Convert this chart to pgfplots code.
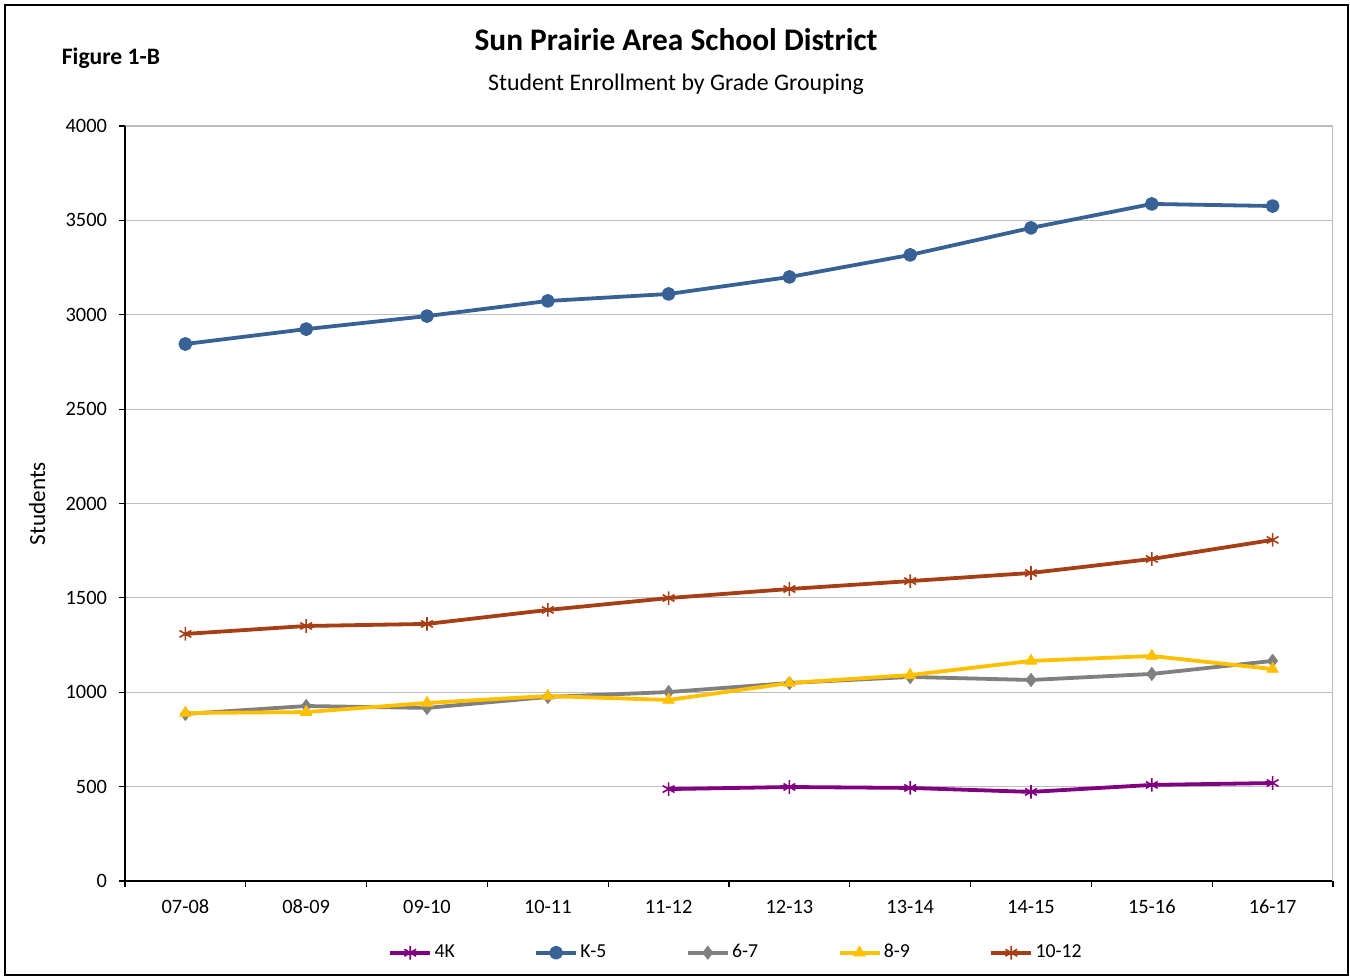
\documentclass[border=0pt]{standalone}
\usepackage{fontspec}
\setmainfont{Carlito}
\usepackage{pgfplots}
\pgfplotsset{compat=1.18}
\definecolor{c4k}{RGB}{128,0,128}
\definecolor{ck5}{RGB}{56,97,150}
\definecolor{c67}{RGB}{128,128,128}
\definecolor{c89}{RGB}{255,192,0}
\definecolor{c1012}{RGB}{166,62,22}
\definecolor{gridgray}{RGB}{191,191,191}
\begin{document}
\begin{tikzpicture}
\useasboundingbox (-62.5pt,-48.5pt) rectangle (612.5pt,440.5pt);
\draw[black, line width=0.6pt] (-60pt,-47pt) rectangle (611.5pt,438pt);
\node[font=\fontsize{15.7}{18}\selectfont\bfseries] at (275.5pt,420.5pt) {Sun Prairie Area School District};
\node[font=\fontsize{11.9}{14}\selectfont] at (275.5pt,398.5pt) {Student Enrollment by Grade Grouping};
\node[font=\fontsize{11.8}{14}\selectfont\bfseries] at (-7pt,411.5pt) {Figure 1-B};
\begin{axis}[
  at={(0pt,0pt)}, anchor=south west,
  scale only axis, width=604pt, height=377.5pt,
  xmin=-0.5, xmax=9.5, ymin=0, ymax=4000,
  axis x line*=bottom, axis y line*=left,
  axis line style={black, line width=0.6pt},
  xtick={0,...,9},
  xticklabels={07-08,08-09,09-10,10-11,11-12,12-13,13-14,14-15,15-16,16-17},
  minor xtick={-0.5,0.5,...,9.5},
  major x tick style={draw=none},
  minor x tick style={black, line width=0.6pt},
  minor tick length=3pt, major tick length=3pt,
  tick align=outside,
  ytick={0,500,...,4000},
  y tick style={black, line width=0.6pt},
  ymajorgrids, major y grid style={gridgray, line width=0.6pt},
  tick label style={font=\fontsize{10.2}{12}\selectfont},
  x tick label style={yshift=-3pt},
  y tick label style={xshift=-2.5pt, /pgf/number format/1000 sep={}},
  /pgf/number format/assume math mode=true,
  ylabel={Students},
  ylabel style={at={(axis description cs:-0.0728,0.5)}, anchor=center, font=\fontsize{11.6}{14}\selectfont},
  legend style={at={(0.506,-0.095)}, anchor=center, draw=none, legend columns=5,
    font=\fontsize{9.9}{11}\selectfont, nodes={inner xsep=1.2pt},
    /tikz/every even column/.append style={column sep=38.5pt}},
  legend image code/.code={\draw[#1,mark repeat=2,mark phase=2] plot coordinates {(0pt,0pt) (10pt,0pt) (20pt,0pt)};},
  every axis plot/.append style={line width=1.9pt, line join=round},
]
\addplot[c4k, mark=asterisk, mark size=3.4pt, mark options={line width=0.8pt}] coordinates {
(4,487) (5,498) (6,493) (7,472) (8,509) (9,519)};
\addlegendentry{4K}
\addplot[ck5, mark=*, mark size=2.5pt] coordinates {
(0,2845) (1,2924) (2,2993) (3,3073) (4,3110) (5,3200) (6,3317) (7,3460) (8,3587) (9,3576)};
\addlegendentry{K-5}
\addplot[c67, mark=diamond*, mark size=3.3pt, mark options={line width=0.4pt}] coordinates {
(0,885) (1,927) (2,917) (3,975) (4,1001) (5,1049) (6,1081) (7,1065) (8,1097) (9,1166)};
\addlegendentry{6-7}
\addplot[c89, mark=triangle*, mark size=3.3pt, mark options={line width=0.4pt}] coordinates {
(0,890) (1,895) (2,943) (3,980) (4,959) (5,1049) (6,1091) (7,1166) (8,1192) (9,1123)};
\addlegendentry{8-9}
\addplot[c1012, mark=asterisk, mark size=3.4pt, mark options={line width=0.8pt}] coordinates {
(0,1309) (1,1351) (2,1362) (3,1436) (4,1499) (5,1547) (6,1589) (7,1632) (8,1706) (9,1807)};
\addlegendentry{10-12}
\draw[gridgray, line width=0.6pt] (rel axis cs:1,0) -- (rel axis cs:1,1);
\end{axis}
\end{tikzpicture}
\end{document}
